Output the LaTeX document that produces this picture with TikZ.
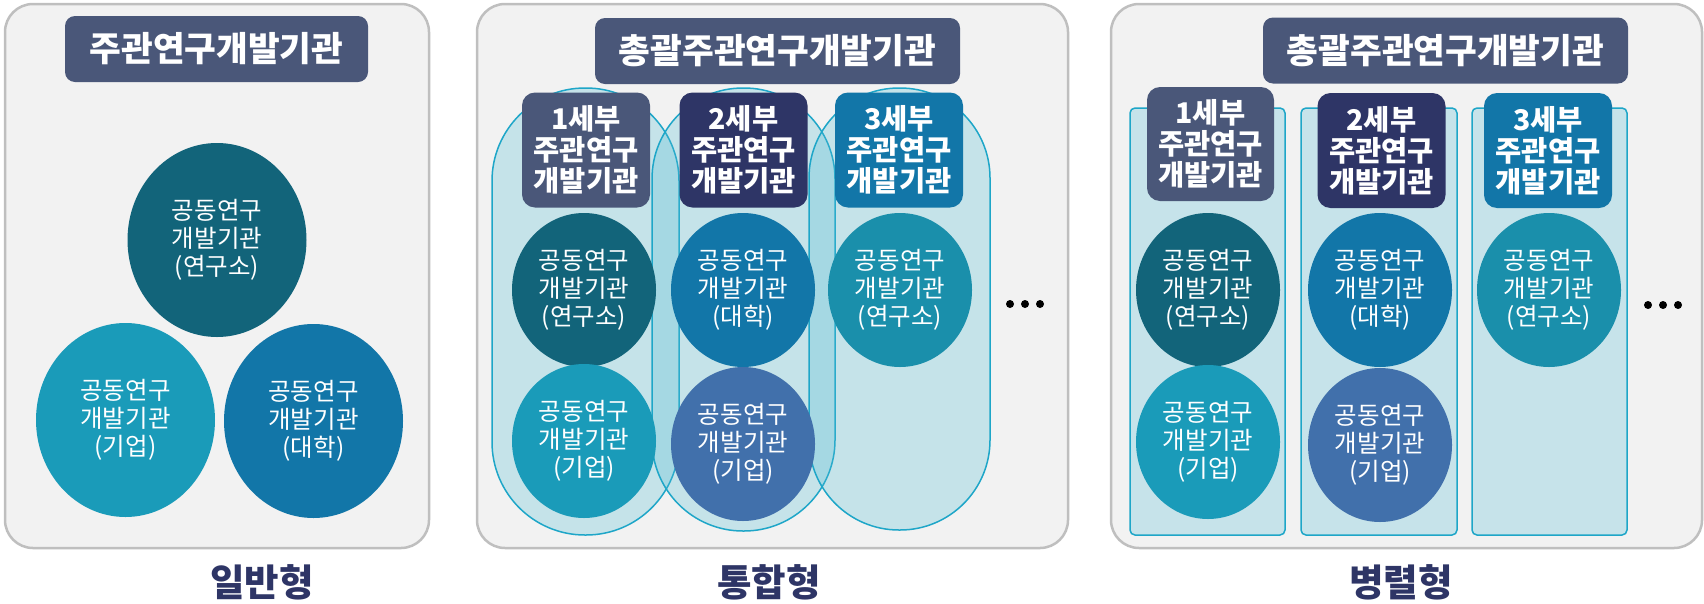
\documentclass[tikz,border=0pt]{standalone}
\usepackage{fontspec}
\setmainfont{Noto Sans CJK KR}
\usepackage{xcolor}
\usetikzlibrary{shapes.geometric,positioning}

\definecolor{panelbg}{HTML}{F2F2F2}
\definecolor{panelline}{HTML}{BFBFBF}
\definecolor{slate}{HTML}{4A5779}
\definecolor{navy}{HTML}{2E3566}
\definecolor{ocean}{HTML}{1276A8}
\definecolor{deepteal}{HTML}{12647A}
\definecolor{aqua}{HTML}{1A9BB9}
\definecolor{seablue}{HTML}{1A8FAB}
\definecolor{steel}{HTML}{4170AB}
\definecolor{capline}{HTML}{1EA6C8}
\definecolor{capfill}{HTML}{4FBBD4}
\definecolor{colfill}{HTML}{C6E3EA}

\tikzset{
  panel/.style={draw=panelline, line width=2.5pt, fill=panelbg, rounded corners=28pt},
  titlebox/.style={fill=slate, text=white, rounded corners=10pt, inner sep=0pt,
    minimum height=66pt, font=\bfseries\fontsize{34.5}{38}\selectfont},
  subbox/.style={text=white, rounded corners=13pt, inner sep=0pt, align=center,
    minimum width=128pt, minimum height=115pt, font=\bfseries\fontsize{28.5}{31}\selectfont},
  org/.style={ellipse, text=white, inner sep=0pt, align=center,
    minimum width=144pt, minimum height=154pt, font=\fontsize{24.5}{28}\selectfont},
  bigorg/.style={org, minimum width=179pt, minimum height=194pt},
  capsule/.style={draw=capline, line width=1.5pt, fill=capfill, fill opacity=0.27},
  column/.style={draw=capline, line width=1.5pt, fill=colfill, rounded corners=5pt},
  typename/.style={text=navy, font=\bfseries\fontsize{37.5}{40}\selectfont}
}

\begin{document}
\begin{tikzpicture}[x=1pt,y=-1pt]
    \useasboundingbox (0,0) rectangle (1704,603);

    % Panels
    \draw[panel] (5,4) rectangle (429,548);
    \draw[panel] (477,4) rectangle (1068,548);
    \draw[panel] (1111,4) rectangle (1702,548);

    % General type
    \node[titlebox, minimum width=303pt] (lead) at (216.5,49) {주관연구개발기관};
    \node[bigorg, fill=deepteal] (lab) at (217,240) {공동연구\\개발기관\\(연구소)};
    \node[bigorg, fill=aqua] (firm) at (125.5,420) {공동연구\\개발기관\\(기업)};
    \node[bigorg, fill=ocean] (univ) at (313.5,421) {공동연구\\개발기관\\(대학)};
    \node[typename] (general) at (262,582) {일반형};

    % Integrated type
    \draw[capsule, rounded corners=93pt] (492,88) rectangle (679,535);
    \draw[capsule, rounded corners=91pt] (652,88) rectangle (835,531);
    \draw[capsule, rounded corners=90pt] (809,88) rectangle (990,530);
    \node[titlebox, minimum width=365pt] (ilead) at (777.5,51) {총괄주관연구개발기관};
    \node[subbox, fill=slate] (isub1) at (586,150) {1세부\\주관연구\\개발기관};
    \node[subbox, fill=navy] (isub2) at (743.5,150) {2세부\\주관연구\\개발기관};
    \node[subbox, fill=ocean] (isub3) at (899,150) {3세부\\주관연구\\개발기관};
    \node[org, fill=deepteal] (ilab1) at (584,290) {공동연구\\개발기관\\(연구소)};
    \node[org, fill=aqua] (ifirm1) at (584,441) {공동연구\\개발기관\\(기업)};
    \node[org, fill=ocean] (iuniv2) at (743,290) {공동연구\\개발기관\\(대학)};
    \node[org, fill=steel] (ifirm2) at (743,444) {공동연구\\개발기관\\(기업)};
    \node[org, fill=seablue] (ilab3) at (900,290) {공동연구\\개발기관\\(연구소)};
    \fill (1010,304) circle (4pt) (1025,304) circle (4pt) (1040,304) circle (4pt);
    \node[typename] (integrated) at (769,582) {통합형};

    % Parallel type
    \draw[column] (1130,108) rectangle (1285,535);
    \draw[column] (1301,108) rectangle (1457,535);
    \draw[column] (1472,108) rectangle (1627,535);
    \node[titlebox, minimum width=365pt] (plead) at (1445.5,50.5) {총괄주관연구개발기관};
    \node[subbox, fill=slate, minimum width=127pt, minimum height=114pt] (psub1) at (1210.5,144) {1세부\\주관연구\\개발기관};
    \node[subbox, fill=navy] (psub2) at (1381.5,150.5) {2세부\\주관연구\\개발기관};
    \node[subbox, fill=ocean] (psub3) at (1548,150.5) {3세부\\주관연구\\개발기관};
    \node[org, fill=deepteal] (plab1) at (1208,290) {공동연구\\개발기관\\(연구소)};
    \node[org, fill=aqua] (pfirm1) at (1208,442) {공동연구\\개발기관\\(기업)};
    \node[org, fill=ocean] (puniv2) at (1380,290) {공동연구\\개발기관\\(대학)};
    \node[org, fill=steel] (pfirm2) at (1380,445) {공동연구\\개발기관\\(기업)};
    \node[org, fill=seablue] (plab3) at (1549,290) {공동연구\\개발기관\\(연구소)};
    \fill (1648,305) circle (4pt) (1663,305) circle (4pt) (1678,305) circle (4pt);
    \node[typename] (parallel) at (1401,582) {병렬형};
\end{tikzpicture}
\end{document}
